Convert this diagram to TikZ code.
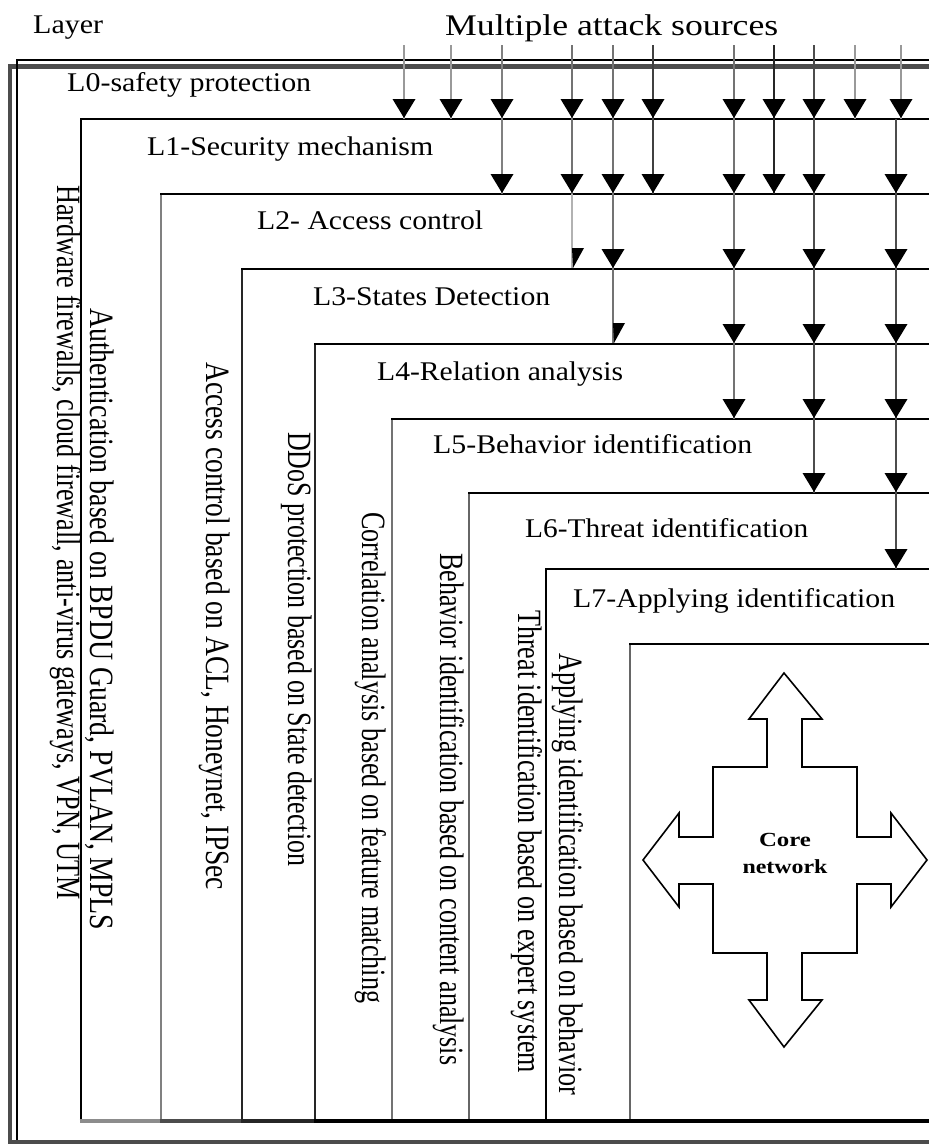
\documentclass[tikz,border=0pt]{standalone}
\usepackage{fontspec}
\setmainfont{Liberation Serif}
\usepackage{graphicx}
% font sizes for the different kinds of labels
\newcommand\hfont{\fontsize{27}{32}\selectfont}
\newcommand\vfont{\fontsize{34}{40}\selectfont}
\newcommand\tfont{\fontsize{30}{36}\selectfont}
\newcommand\cfont{\fontsize{20}{27}\selectfont}
% text stretched to a given width, keeping its height
\newcommand\fitw[2]{\resizebox{#1pt}{\height}{#2}}

\begin{document}
\begin{tikzpicture}[x=1pt,y=-1pt,
  hlab/.style={anchor=base west,inner sep=0pt,font=\hfont},
  vlab/.style={rotate=-90,anchor=base west,inner sep=0pt,font=\vfont},
  frameline/.style={line width=2.6pt},
  feed/.style={line width=2pt},
]
\clip (0,0) rectangle (929,1144);
\fill[white] (0,0) rectangle (929,1144);

% double outer frame of layer L0
\draw[line width=4.5pt,black!70] (10,1141) -- (10,66.5) -- (940,66.5);
\draw[line width=2pt] (17,1141) -- (17,60) -- (940,60);
\draw[line width=4pt,black!70] (8,1141.5) -- (940,1141.5);

% nested layer boxes: left x / top y / left-side colour / bottom colour
\foreach \l/\t/\c/\b in {81/119/black/black!45, 161/194/black!50/black!70,
    242/269/black!85/black!85, 315/344/black!85/black, 392/419/black!55/black,
    469/493/black!60/black, 546/569/black/black, 630/644/black!60/black}{
  \draw[frameline] (940,\t) -- (\l,\t) -- (\l,1121);
  \draw[frameline,\c] (\l,\t+1.3) -- (\l,1121);
  \draw[line width=3.6pt,\b] (\l-1.3,1121) -- (940,1121);
}

% attack feeds: x / deepest layer reached / line colour
\foreach \x/\n/\c in {404/1/black!40, 451/1/black!40, 502/2/black!50,
    653/2/black!75, 734/5/black!55, 774/2/black!85, 814/6/black!70,
    855/1/black!40}{
  \pgfmathsetmacro\yend{{119,194,269,344,419,493,569}[\n-1]}
  \draw[feed,\c] (\x,45) -- (\x,\yend);
  \foreach \k in {1,...,\n}{
    \pgfmathsetmacro\yk{{119,194,269,344,419,493,569}[\k-1]}
    \fill (\x-11.5,\yk-20) -- (\x+11.5,\yk-20) -- (\x,\yk-1) -- cycle;
  }
}
% feeds ending in a half head
\draw[feed,black!55] (572,45) -- (572,194);
\draw[line width=1.5pt,black!30] (572,194) -- (572,268);
\foreach \yk in {119,194}
  \fill (572-11.5,\yk-20) -- (572+11.5,\yk-20) -- (572,\yk-1) -- cycle;
\fill (572,248) -- (584,248) -- (573,268) -- cycle;
\draw[feed,black!55] (613,45) -- (613,343);
\foreach \yk in {119,194,269}
  \fill (613-11.5,\yk-20) -- (613+11.5,\yk-20) -- (613,\yk-1) -- cycle;
\fill (613,323) -- (625,323) -- (614,343) -- cycle;
% feed reaching the innermost layer
\draw[feed,black!40] (901,45) -- (901,119);
\draw[feed,black!70] (896,119) -- (896,569);
\fill (901-11.5,99) -- (901+11.5,99) -- (901,118) -- cycle;
\foreach \yk in {194,269,344,419,493,569}
  \fill (896-11.5,\yk-20) -- (896+11.5,\yk-20) -- (896,\yk-1) -- cycle;

% headings
\node[hlab] (layer) at (33,33) {\fitw{70}{Layer}};
\node[hlab,font=\tfont] (src) at (445,35) {\fitw{333}{Multiple attack sources}};

% layer titles
\node[hlab] (l0) at (67,91)  {\fitw{244}{L0-safety protection}};
\node[hlab] (l1) at (147,155) {\fitw{286}{L1-Security mechanism}};
\node[hlab] (l2) at (257,229) {\fitw{226}{L2- Access control}};
\node[hlab] (l3) at (313,305) {\fitw{237}{L3-States Detection}};
\node[hlab] (l4) at (377,380) {\fitw{246}{L4-Relation analysis}};
\node[hlab] (l5) at (433,453) {\fitw{319}{L5-Behavior identification}};
\node[hlab] (l6) at (525,537) {\fitw{283}{L6-Threat identification}};
\node[hlab] (l7) at (573,607) {\fitw{322}{L7-Applying identification}};

% layer mechanisms, written downwards
\node[vlab] (v0) at (57,185)  {\fitw{715}{Hardware firewalls, cloud firewall, anti-virus gateways, VPN, UTM}};
\node[vlab] (v1) at (90,308)  {\fitw{622}{Authentication based on BPDU Guard, PVLAN, MPLS}};
\node[vlab] (v2) at (206,362) {\fitw{528}{Access control based on ACL, Honeynet, IPSec}};
\node[vlab] (v3) at (288,432) {\fitw{434}{DDoS protection based on State detection}};
\node[vlab] (v4) at (362,512) {\fitw{491}{Correlation analysis based on feature matching}};
\node[vlab] (v5) at (440,553) {\fitw{512}{Behavior identification based on content analysis}};
\node[vlab] (v6) at (518,610) {\fitw{463}{Threat identification based on expert system}};
\node[vlab] (v7) at (559,653) {\fitw{442}{Applying identification based on behavior}};

% core network: four-way arrow
\draw[line width=1.6pt,line join=miter]
  (784,673) -- (822,719) -- (802,719) -- (802,767) -- (857,767) -- (857,837)
  -- (891,837) -- (891,813) -- (927,860) -- (891,907) -- (891,884) -- (857,884)
  -- (857,953) -- (802,953) -- (802,1000) -- (822,1000) -- (784,1047)
  -- (749,1000) -- (767,1000) -- (767,953) -- (713,953) -- (713,884)
  -- (679,884) -- (679,907) -- (643,860) -- (679,813) -- (679,837)
  -- (713,837) -- (713,767) -- (767,767) -- (767,719) -- (749,719) -- cycle;
\node[align=center,inner sep=0pt,font=\cfont\bfseries] (core) at (785,853)
  {\fitw{52}{Core}\\\fitw{85}{network}};
\end{tikzpicture}
\end{document}
